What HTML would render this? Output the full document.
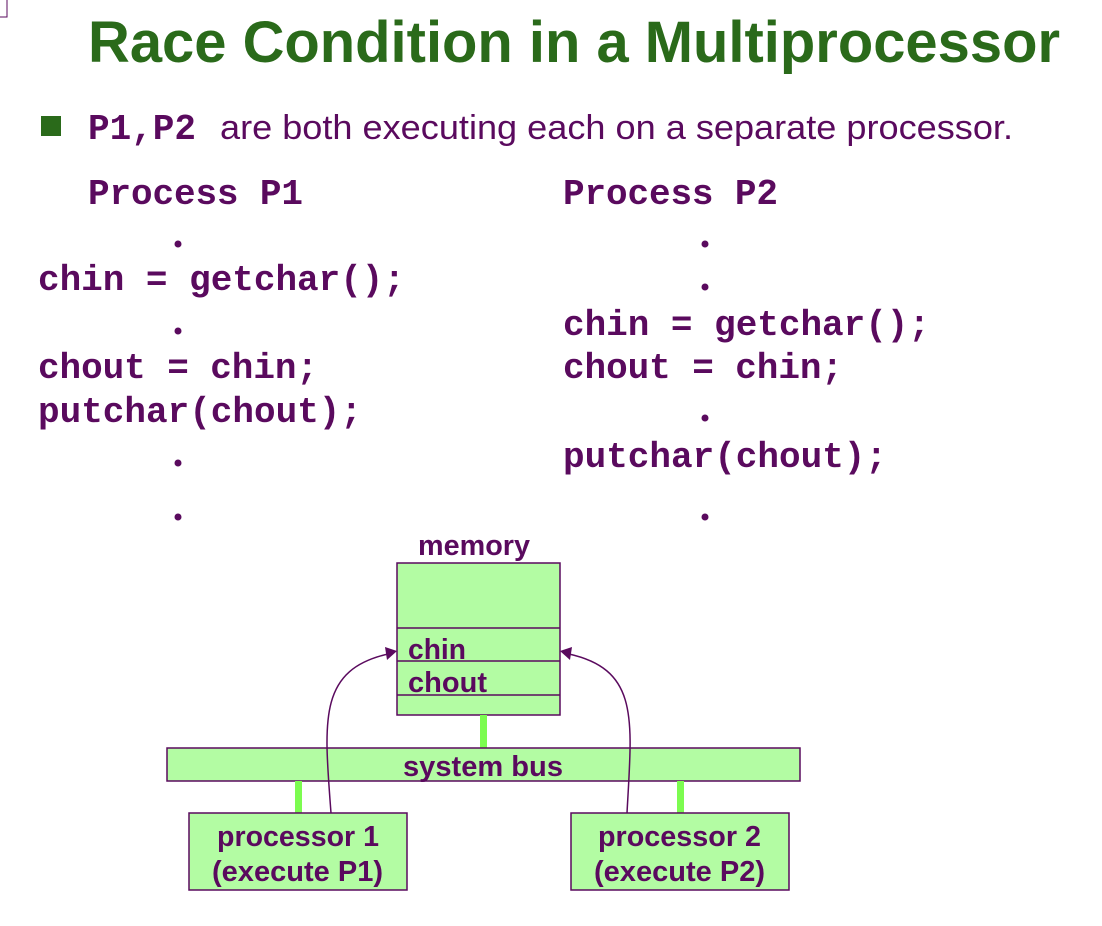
<!DOCTYPE html>
<html><head><meta charset="utf-8"><style>
html,body{margin:0;padding:0;background:#fff;width:1102px;height:926px;overflow:hidden}
svg{display:block}
.m{font-family:"Liberation Mono",monospace;font-weight:bold;font-size:36px;fill:#5a0a5e}
.s{font-family:"Liberation Sans",sans-serif;fill:#5a0a5e}
.d{font-family:"Liberation Sans",sans-serif;fill:#5a0a5e;font-size:29px;font-weight:bold}
</style></head><body>
<svg width="1102" height="926" viewBox="0 0 1102 926" xmlns="http://www.w3.org/2000/svg">
<rect x="-1" y="-1" width="8" height="18" fill="none" stroke="#5a0a5e" stroke-width="1"/>
<text x="88" y="62" font-family="Liberation Sans,sans-serif" font-weight="bold" font-size="58" fill="#2a6a1a" textLength="972" lengthAdjust="spacingAndGlyphs">Race Condition in a Multiprocessor</text>
<rect x="41" y="116" width="20" height="20" fill="#2a6a1a"/>
<text x="88" y="139" class="m" font-size="34" textLength="108">P1,P2</text>
<text x="220" y="139" class="s" font-size="34" textLength="793" lengthAdjust="spacingAndGlyphs">are both executing each on a separate processor.</text>
<text x="88" y="204" class="m" textLength="215">Process P1</text>
<text x="38" y="290" class="m" textLength="367">chin = getchar();</text>
<text x="38" y="378" class="m" textLength="280">chout = chin;</text>
<text x="38" y="422" class="m" textLength="324">putchar(chout);</text>
<g fill="#5a0a5e">
<circle cx="178" cy="244" r="3.5"/><circle cx="178" cy="331" r="3.5"/><circle cx="178" cy="463" r="3.5"/><circle cx="178" cy="517" r="3.5"/>
<circle cx="705" cy="244" r="3.5"/><circle cx="705" cy="287" r="3.5"/><circle cx="705" cy="418" r="3.5"/><circle cx="705" cy="517" r="3.5"/>
</g>
<text x="563" y="204" class="m" textLength="215">Process P2</text>
<text x="563" y="335" class="m" textLength="367">chin = getchar();</text>
<text x="563" y="378" class="m" textLength="280">chout = chin;</text>
<text x="563" y="467" class="m" textLength="324">putchar(chout);</text>

<text x="418" y="555" class="d" textLength="112" lengthAdjust="spacingAndGlyphs">memory</text>
<rect x="397" y="563" width="163" height="152" fill="#b3fca3" stroke="#5a0a5e" stroke-width="1.5"/>
<line x1="397" y1="628" x2="560" y2="628" stroke="#5a0a5e" stroke-width="1.5"/>
<line x1="397" y1="661" x2="560" y2="661" stroke="#5a0a5e" stroke-width="1.5"/>
<line x1="397" y1="695" x2="560" y2="695" stroke="#5a0a5e" stroke-width="1.5"/>
<text x="408" y="659" class="d" textLength="58" lengthAdjust="spacingAndGlyphs">chin</text>
<text x="408" y="692" class="d" textLength="79" lengthAdjust="spacingAndGlyphs">chout</text>
<rect x="480" y="715" width="7" height="33" fill="#7cfc50"/>
<rect x="167" y="748" width="633" height="33" fill="#b3fca3" stroke="#5a0a5e" stroke-width="1.5"/>
<text x="403" y="776" class="d" textLength="160" lengthAdjust="spacingAndGlyphs">system bus</text>
<rect x="295" y="781" width="7" height="32" fill="#7cfc50"/>
<rect x="677" y="781" width="7" height="32" fill="#7cfc50"/>
<rect x="189" y="813" width="218" height="77" fill="#b3fca3" stroke="#5a0a5e" stroke-width="1.5"/>
<rect x="571" y="813" width="218" height="77" fill="#b3fca3" stroke="#5a0a5e" stroke-width="1.5"/>
<text x="217" y="846" class="d" textLength="162" lengthAdjust="spacingAndGlyphs">processor 1</text>
<text x="212" y="881" class="d" textLength="171" lengthAdjust="spacingAndGlyphs">(execute P1)</text>
<text x="598" y="846" class="d" textLength="163" lengthAdjust="spacingAndGlyphs">processor 2</text>
<text x="594" y="881" class="d" textLength="171" lengthAdjust="spacingAndGlyphs">(execute P2)</text>
<path d="M331,813 C324,720 318,670 388,654" fill="none" stroke="#5a0a5e" stroke-width="1.5"/>
<polygon points="397,651 385,647 387,660" fill="#5a0a5e"/>
<path d="M627,813 C632,720 640,670 569,654" fill="none" stroke="#5a0a5e" stroke-width="1.5"/>
<polygon points="560,651 572,647 570,660" fill="#5a0a5e"/>
</svg>
</body></html>
